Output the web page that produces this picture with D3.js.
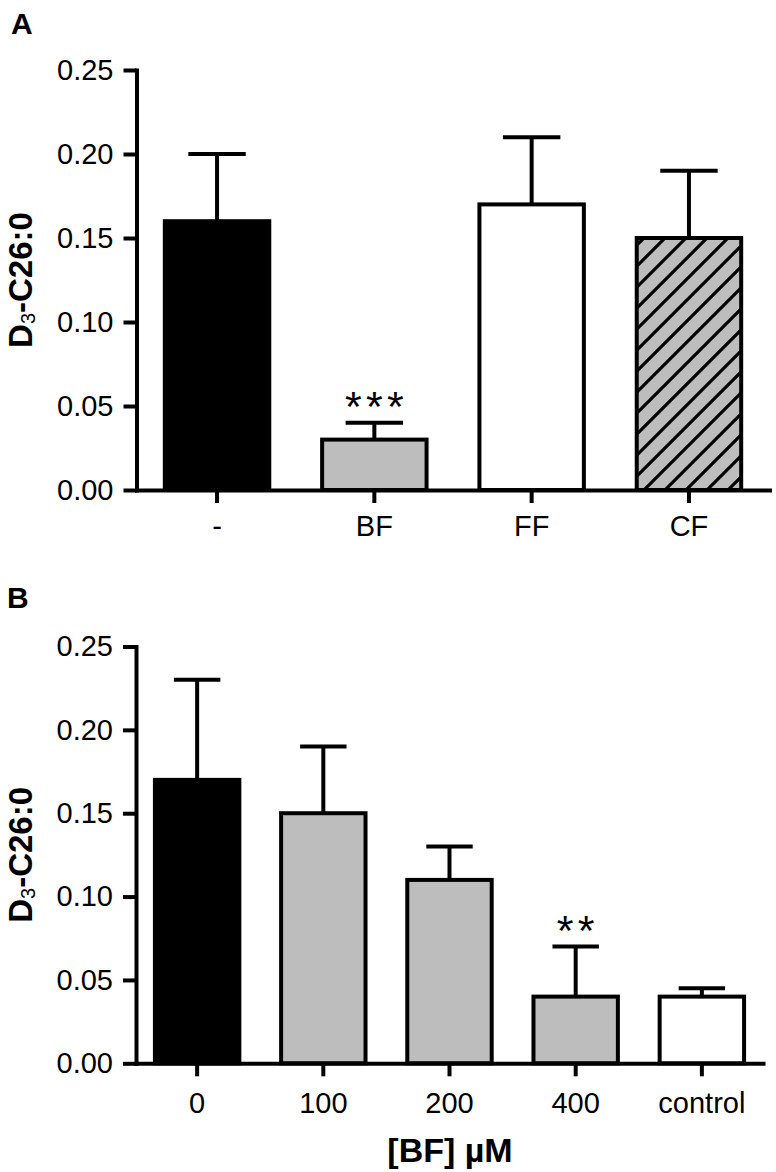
<!DOCTYPE html>
<html>
<head>
<meta charset="utf-8">
<script src="https://cdn.jsdelivr.net/npm/d3@7"></script>
<style>
  html, body { margin: 0; padding: 0; background: #fff; }
  svg { display: block; }
  text { font-family: "Liberation Sans", Arial, Helvetica, sans-serif; fill: #000; }
</style>
</head>
<body>
<svg id="chart" width="776" height="1172"></svg>
<script>
// ---- Data ----
const categoriesA = ["-", "BF", "FF", "CF"];
const valuesA = [0.16, 0.03, 0.17, 0.15];
const errorsA = [0.04, 0.01, 0.04, 0.04];
const signifA = ["", "***", "", ""];

const categoriesB = ["0", "100", "200", "400", "control"];
const valuesB = [0.17, 0.15, 0.11, 0.04, 0.04];
const errorsB = [0.06, 0.04, 0.02, 0.03, 0.005];
const signifB = ["", "", "", "**", ""];

const yTickValues = [0, 0.05, 0.10, 0.15, 0.20, 0.25];
const yTitleMain = "D";
const yTitleSub = "3";
const yTitleRest = "-C26:0";
const xTitleB = "[BF] µM";

// ---- Styles ----
const fillsA = ["#000000", "#bdbdbd", "#ffffff", "url(#hatch)"];
const fillsB = ["#000000", "#bdbdbd", "#bdbdbd", "#bdbdbd", "#ffffff"];
const SW = 4;

const svg = d3.select("#chart");
const defs = svg.append("defs");
const pat = defs.append("pattern")
  .attr("id", "hatch").attr("patternUnits", "userSpaceOnUse")
  .attr("width", 21).attr("height", 21);
pat.append("rect").attr("width", 21).attr("height", 21).attr("fill", "#bdbdbd");
pat.append("path")
  .attr("d", "M-5,5 L5,-5 M0,21 L21,0 M16,26 L26,16")
  .attr("stroke", "#000").attr("stroke-width", 3.2).attr("fill", "none");

function drawPanel(cfg) {
  const g = svg.append("g");
  const x = d3.scaleBand().domain(cfg.cats).range(cfg.xRange)
    .paddingInner(cfg.pi).paddingOuter(cfg.po);
  const y = d3.scaleLinear().domain([0, 0.25]).range(cfg.yRange);
  const data = cfg.cats.map((c, i) => ({c, v: cfg.vals[i], e: cfg.errs[i], f: cfg.fills[i], s: cfg.sig[i]}));
  const bw = x.bandwidth();
  const capW = bw * 0.55;

  // bars
  g.selectAll("rect.bar").data(data).join("rect")
    .attr("class", "bar")
    .attr("x", d => x(d.c)).attr("width", bw)
    .attr("y", d => y(d.v)).attr("height", d => y(0) - y(d.v))
    .attr("fill", d => d.f).attr("stroke", "#000").attr("stroke-width", SW);

  // error bars
  g.selectAll("line.err").data(data).join("line")
    .attr("class", "err")
    .attr("x1", d => x(d.c) + bw / 2).attr("x2", d => x(d.c) + bw / 2)
    .attr("y1", d => y(d.v)).attr("y2", d => y(d.v + d.e))
    .attr("stroke", "#000").attr("stroke-width", SW);
  g.selectAll("line.cap").data(data).join("line")
    .attr("class", "cap")
    .attr("x1", d => x(d.c) + bw / 2 - capW / 2).attr("x2", d => x(d.c) + bw / 2 + capW / 2)
    .attr("y1", d => y(d.v + d.e)).attr("y2", d => y(d.v + d.e))
    .attr("stroke", "#000").attr("stroke-width", SW);

  // significance stars
  data.filter(d => d.s).forEach(d => {
    const n = d.s.length;
    d3.range(n).forEach(i => {
      g.append("text")
        .attr("x", x(d.c) + bw / 2 + (i - (n - 1) / 2) * 21)
        .attr("y", y(d.v + d.e) - 2)
        .attr("text-anchor", "middle")
        .attr("font-size", 43)
        .text("*");
    });
  });

  // axes
  const yAxis = d3.axisLeft(y).tickValues(yTickValues).tickFormat(d3.format(".2f"))
    .tickSizeInner(13).tickSizeOuter(0).tickPadding(10);
  const ya = g.append("g").attr("transform", `translate(${cfg.xRange[0]},0)`).call(yAxis);
  const xAxis = d3.axisBottom(x).tickSizeInner(13).tickSizeOuter(0).tickPadding(cfg.xPad);
  const xa = g.append("g").attr("transform", `translate(0,${cfg.yRange[0]})`).call(xAxis);
  [ya, xa].forEach(a => {
    a.select(".domain").attr("stroke-width", SW).attr("stroke-linecap", "square");
    a.selectAll(".tick line").attr("stroke-width", SW);
    a.selectAll(".tick text").attr("font-size", 29).attr("font-family", null);
  });

  // y title
  const yMid = (cfg.yRange[0] + cfg.yRange[1]) / 2;
  const yt = g.append("text")
    .attr("transform", `translate(32,${yMid}) rotate(-90)`)
    .attr("text-anchor", "middle")
    .attr("font-size", 33).attr("font-weight", "bold");
  yt.append("tspan").text(yTitleMain);
  yt.append("tspan").attr("font-size", 20).attr("font-weight", "normal").attr("dy", 3).text(yTitleSub);
  yt.append("tspan").attr("dy", -3).text(yTitleRest);

  // panel letter
  g.append("text").attr("x", cfg.letterX).attr("y", cfg.letterY)
    .attr("font-size", 30).attr("font-weight", "bold").text(cfg.letter);
  return {x, y};
}

drawPanel({
  cats: categoriesA, vals: valuesA, errs: errorsA, fills: fillsA, sig: signifA,
  xRange: [136.5, 769.5], yRange: [490, 70], pi: 0.336, po: 0.18, xPad: 12,
  letter: "A", letterX: 11, letterY: 34
});
drawPanel({
  cats: categoriesB, vals: valuesB, errs: errorsB, fills: fillsB, sig: signifB,
  xRange: [136, 763], yRange: [1063.3, 646.5], pi: 0.331, po: 0.15, xPad: 16,
  letter: "B", letterX: 7, letterY: 608
});

svg.append("text").attr("x", 450).attr("y", 1162)
  .attr("text-anchor", "middle").attr("font-size", 34).attr("font-weight", "bold")
  .text(xTitleB);
</script>
</body>
</html>
